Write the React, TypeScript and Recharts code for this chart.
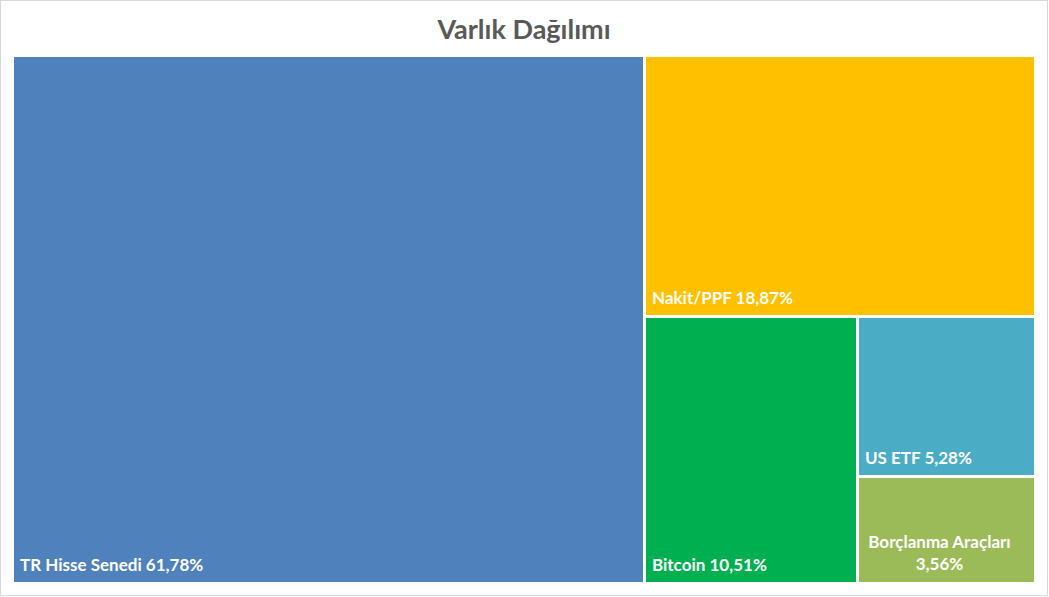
import { Treemap } from "recharts";

const assetNames = ["TR Hisse Senedi", "Nakit/PPF", "Bitcoin", "US ETF", "Borçlanma Araçları"];
const assetShares = [61.78, 18.87, 10.51, 5.28, 3.56];

const cellColors = ["#4F81BD", "#FFC000", "#00B050", "#4BACC6", "#9BBB59"];

const data = assetNames.map((name, i) => ({ name, value: assetShares[i] }));

const GAP = 3;
const LABEL_SIZE = 17;

const fmt = (v: number) => v.toFixed(2).replace(".", ",") + "%";

const CellContent = (props: any) => {
  const { x, y, width, height, depth, index, name, value } = props;
  if (depth !== 1) return null;
  const w = width - GAP;
  const h = height - GAP;
  const label = `${name} ${fmt(value)}`;
  const guessWidth = label.length * LABEL_SIZE * 0.5;
  const fits = guessWidth < w - 12;
  return (
    <g>
      <rect x={x} y={y} width={w} height={h} fill={cellColors[index % cellColors.length]} stroke="none" />
      {fits ? (
        <text
          x={x + 6}
          y={y + h - 11}
          fill="#fff"
          fontSize={LABEL_SIZE}
          fontWeight="bold"
          fontFamily="Lato, sans-serif"
        >
          {label}
        </text>
      ) : (
        <text
          x={x + w / 2 - 7}
          fill="#fff"
          fontSize={LABEL_SIZE}
          fontWeight="bold"
          fontFamily="Lato, sans-serif"
          textAnchor="middle"
        >
          <tspan x={x + w / 2 - 7} y={y + h - 34}>{name}</tspan>
          <tspan x={x + w / 2 - 7} y={y + h - 12}>{fmt(value)}</tspan>
        </text>
      )}
    </g>
  );
};

export default function App() {
  return (
    <div
      style={{
        position: "absolute",
        left: 0,
        top: 0,
        width: 1046,
        height: 594,
        border: "1px solid #d9d9d9",
        background: "#fff",
      }}
    >
      <div
        style={{
          position: "absolute",
          left: 0,
          top: 12,
          width: 1046,
          textAlign: "center",
          fontFamily: "Lato, sans-serif",
          fontWeight: "bold",
          fontSize: 27,
          lineHeight: "32px",
          color: "#595959",
        }}
      >
        Varlık Dağılımı
      </div>
      <div style={{ position: "absolute", left: 13, top: 56 }}>
        <Treemap
          width={1023}
          height={528}
          data={data}
          dataKey="value"
          nameKey="name"
          aspectRatio={1}
          isAnimationActive={false}
          content={<CellContent />}
        />
      </div>
    </div>
  );
}
